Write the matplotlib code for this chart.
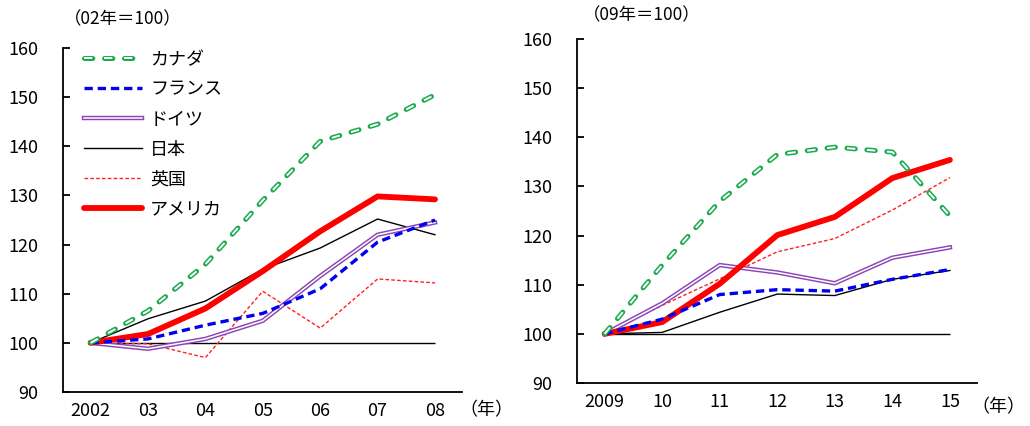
import matplotlib
matplotlib.use("Agg")
import matplotlib.pyplot as plt

plt.rcParams['font.family'] = ['Noto Sans CJK JP', 'DejaVu Sans']
plt.rcParams['lines.scale_dashes'] = False

# 2002-2008 (02年=100)
years_a = ["2002", "03", "04", "05", "06", "07", "08"]
canada_a = [100, 106.5, 116, 129, 141, 144.5, 150.5]
france_a = [100, 100.8, 103.6, 106, 111, 120.5, 125]
germany_a = [100, 98.8, 100.8, 104.5, 113.6, 122, 124.5]
japan_a = [100, 104.9, 108.5, 115, 119.3, 125.2, 122]
uk_a = [100, 99.8, 97, 110.5, 103, 113, 112.2]
usa_a = [100, 101.8, 107, 114.6, 122.7, 129.8, 129.2]

# 2009-2015 (09年=100)
years_b = ["2009", "10", "11", "12", "13", "14", "15"]
canada_b = [100, 114, 127, 136.5, 138, 137, 124]
france_b = [100, 103, 108, 109, 108.7, 111.1, 113.1]
germany_b = [100, 106.2, 114, 112.5, 110.3, 115.5, 117.6]
japan_b = [100, 100.3, 104.4, 108.1, 107.8, 111.1, 112.9]
uk_b = [100, 105.8, 111.2, 116.7, 119.4, 125.2, 131.8]
usa_b = [100, 102.4, 110.2, 120.1, 123.8, 131.7, 135.4]

names = ["カナダ", "フランス", "ドイツ", "日本", "英国", "アメリカ"]

GREEN = '#1aab4f'
BLUE = '#0000ee'
PURPLE = '#8b45b5'
RED = '#ff0000'
FS = 13


def draw(ax, years, canada, france, germany, japan, uk, usa):
    x = range(len(years))
    handles = []
    # canada: hollow dashes
    l1, = ax.plot(x, canada, color=GREEN, lw=3.6, dashes=(6.0, 8.4),
                  dash_capstyle='round', zorder=6)
    l1b, = ax.plot(x, canada, color='white', lw=1.4, dashes=(6.0, 8.4),
                   dash_capstyle='butt', zorder=7)
    handles.append((l1, l1b))
    l2, = ax.plot(x, france, color=BLUE, lw=2.4, dashes=(6, 3.5), zorder=5)
    handles.append(l2)
    # germany: double line
    l3, = ax.plot(x, germany, color=PURPLE, lw=3.2, zorder=3)
    l3b, = ax.plot(x, germany, color='white', lw=1.1, zorder=3.1)
    handles.append((l3, l3b))
    l4, = ax.plot(x, japan, color='black', lw=1.0, zorder=2)
    handles.append(l4)
    l5, = ax.plot(x, uk, color='#ff2020', lw=1.0, dashes=(2.6, 1.6), zorder=2.5)
    handles.append(l5)
    l6, = ax.plot(x, usa, color=RED, lw=4.2, solid_capstyle='round', zorder=4)
    handles.append(l6)
    ax.hlines(100, 0, len(years) - 1, color='black', lw=1.0, zorder=1)

    ax.set_xlim(-0.48, 6.47)
    ax.set_ylim(90, 160)
    ax.set_yticks(range(90, 161, 10))
    ax.set_xticks(list(x))
    ax.set_xticklabels(years)
    for s in ['top', 'right']:
        ax.spines[s].set_visible(False)
    for s in ['left', 'bottom']:
        ax.spines[s].set_linewidth(1.3)
    ax.tick_params(axis='y', direction='in', length=5, width=1.3, pad=18,
                   labelsize=FS)
    ax.tick_params(axis='x', length=0, pad=7, labelsize=FS)
    return handles


fig = plt.figure(figsize=(10.3, 4.26), dpi=100)
ax1 = fig.add_axes([0.0612, 0.0798, 0.3873, 0.8075])
ax2 = fig.add_axes([0.5602, 0.1009, 0.3883, 0.8075])

h = draw(ax1, years_a, canada_a, france_a, germany_a, japan_a, uk_a, usa_a)
draw(ax2, years_b, canada_b, france_b, germany_b, japan_b, uk_b, usa_b)

ax1.legend(h, names, loc='upper left', bbox_to_anchor=(0.035, 1.013),
           frameon=False, fontsize=FS, handlelength=3.2, handletextpad=0.45,
           labelspacing=0.66, borderaxespad=0)

fig.text(0.062, 0.955, "（02年＝100）", fontsize=12.5, va='center')
fig.text(0.566, 0.965, "（09年＝100）", fontsize=12.5, va='center')
fig.text(0.446, 0.037, "（年）", fontsize=FS, va='center')
fig.text(0.943, 0.045, "（年）", fontsize=FS, va='center')

fig.savefig("out.png", dpi=100)
